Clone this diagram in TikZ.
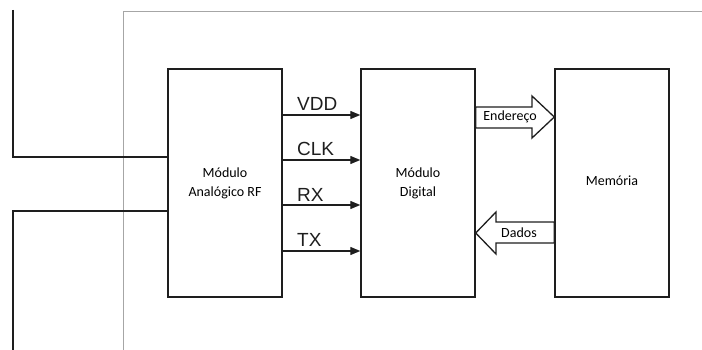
\documentclass[tikz,border=0pt]{standalone}
\usepackage{fontspec}
\setmainfont{Carlito}
\newfontfamily\sigfont{Liberation Sans}
\usetikzlibrary{arrows.meta}
\definecolor{framegray}{HTML}{A6A6A6}
\definecolor{ink}{HTML}{1E1E1E}

\begin{document}
\begin{tikzpicture}[x=1pt,y=-1pt,
  blk/.style={draw=ink,line width=1.4pt,minimum width=114pt,minimum height=228pt,inner sep=0pt,align=center,font=\fontsize{14}{19}\selectfont},
  sig/.style={draw=ink,line width=1.3pt,-{Triangle[length=10pt,width=8pt]}},
  siglbl/.style={anchor=base west,inner sep=0pt,font=\sigfont\fontsize{19}{19}\selectfont,text=ink},
  fat/.style={draw=ink,line width=1.3pt,fill=white},
  wire/.style={draw=ink,line width=1.3pt}]
\useasboundingbox (0,0) rectangle (702,350);
\draw[framegray,line width=1pt] (123,350)--(123,12)--(702,12);
\node[blk] (rf) at (225,183) {Módulo\\Analógico RF};
\node[blk] (dig) at (418,183) {Módulo\\Digital};
\node[blk] (mem) at (612,183) {\raisebox{5pt}{Memória}};
\draw[wire] (13,10)--(13,157)--(rf.west |- 0,157);
\draw[wire] (rf.west |- 0,211)--(13,211)--(13,350);
\foreach \y/\t in {115/VDD,160/CLK,205/RX,251/TX}{
  \draw[sig] (rf.east |- 0,\y)--(dig.west |- 0,\y);
  \node[siglbl] (lbl-\t) at (297,{\y-4}) {\t};
}
\draw[fat] (dig.east |- 0,107)--(532,107)--(532,96)--(mem.west |- 0,117)--(532,138)--(532,128)--(dig.east |- 0,128)--cycle;
\node[font=\fontsize{14}{14}\selectfont,inner sep=0pt] (addr) at (510,117) {Endereço};
\draw[fat] (mem.west |- 0,222)--(496,222)--(496,212)--(dig.east |- 0,233)--(496,254)--(496,243)--(mem.west |- 0,243)--cycle;
\node[font=\fontsize{14}{14}\selectfont,inner sep=0pt] (data) at (519,233) {Dados};
\end{tikzpicture}
\end{document}
